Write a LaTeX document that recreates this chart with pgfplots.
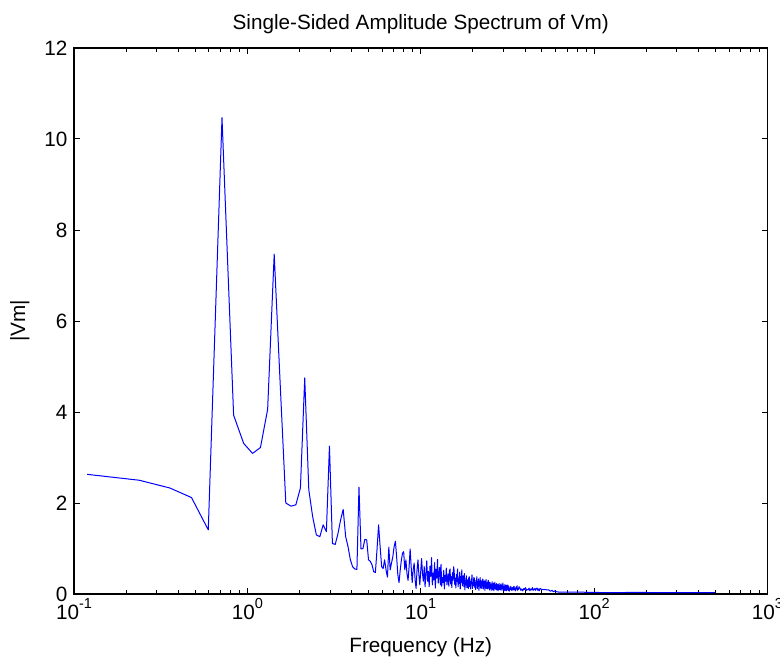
\documentclass[border=0pt]{standalone}
\usepackage{fontspec}
\setmainfont{Liberation Sans}
\usepackage{pgfplots}
\pgfplotsset{compat=1.18}
\usepackage{pgfplotstable}

% k = FFT bin index, f = k * 0.119 Hz ; v = |Vm|
\pgfplotstableread[row sep=\\]{
k v\\
1 2.63\\ 2 2.50\\ 3 2.33\\ 4 2.12\\ 5 1.41\\ 6 10.47\\ 7 3.93\\ 8 3.31\\ 9 3.09\\ 10 3.22\\
11 4.06\\ 12 7.47\\ 13 4.60\\ 14 2.00\\ 15 1.93\\ 16 1.96\\ 17 2.33\\ 18 4.75\\ 19 2.29\\ 20 1.70\\
21 1.30\\ 22 1.26\\ 23 1.52\\ 24 1.37\\ 25 3.25\\ 26 1.11\\ 27 1.09\\ 28 1.33\\ 29 1.63\\ 30 1.86\\
31 1.26\\ 32 1.04\\ 33 0.75\\ 34 0.60\\ 35 0.55\\ 36 0.54\\ 37 2.35\\ 38 0.99\\ 39 1.00\\ 40 1.20\\
41 1.19\\ 42 0.75\\ 43 0.72\\ 44 0.64\\ 45 0.49\\ 46 0.47\\ 47 0.97\\ 48 1.52\\ 49 1.04\\ 50 0.60\\
51 0.56\\ 52 0.75\\ 53 0.53\\ 54 0.37\\ 55 1.03\\ 56 0.53\\ 57 0.68\\ 58 0.82\\ 59 1.04\\ 60 1.16\\
61 0.82\\ 62 0.42\\ 63 0.25\\ 64 0.53\\ 65 0.75\\ 66 0.90\\ 67 0.93\\ 68 0.53\\ 69 0.75\\ 70 0.45\\
71 0.30\\ 72 0.60\\ 73 0.99\\ 74 0.60\\ 75 0.25\\ 76 0.53\\ 77 0.68\\ 78 0.30\\ 79 0.12\\ 80 0.53\\
81 0.75\\ 82 0.42\\ 83 0.20\\ 84 0.50\\ 85 0.78\\ 86 0.45\\ 87 0.28\\ 88 0.60\\ 89 0.16\\ 90 0.45\\
91 0.73\\ 92 0.28\\ 93 0.50\\ 94 0.16\\ 95 0.61\\ 96 0.39\\ 97 0.80\\ 98 0.20\\ 99 0.46\\ 100 0.31\\
101 0.69\\ 102 0.13\\ 103 0.54\\ 104 0.35\\ 105 0.76\\ 106 0.24\\ 107 0.43\\ 108 0.58\\ 109 0.20\\ 110 0.65\\
111 0.17\\ 112 0.36\\ 113 0.25\\ 114 0.52\\ 115 0.11\\ 116 0.41\\ 117 0.28\\ 118 0.57\\ 119 0.20\\ 120 0.33\\
121 0.44\\ 122 0.17\\ 123 0.49\\ 124 0.55\\ 125 0.22\\ 126 0.38\\ 127 0.14\\ 128 0.47\\ 129 0.30\\ 130 0.60\\
131 0.50\\ 132 0.21\\ 133 0.35\\ 134 0.13\\ 135 0.43\\ 136 0.28\\ 137 0.55\\ 138 0.16\\ 139 0.33\\ 140 0.23\\
141 0.48\\ 142 0.11\\ 143 0.38\\ 144 0.26\\ 145 0.53\\ 146 0.18\\ 147 0.31\\ 148 0.40\\ 149 0.16\\ 150 0.45\\
151 0.09\\ 152 0.29\\ 153 0.20\\ 154 0.40\\ 155 0.14\\ 156 0.24\\ 157 0.31\\ 158 0.12\\ 159 0.35\\ 160 0.38\\
161 0.16\\ 162 0.27\\ 163 0.11\\ 164 0.33\\ 165 0.22\\ 166 0.42\\ 167 0.12\\ 168 0.25\\ 169 0.18\\ 170 0.36\\
171 0.35\\ 172 0.15\\ 173 0.25\\ 174 0.10\\ 175 0.30\\ 176 0.20\\ 177 0.38\\ 178 0.12\\ 179 0.23\\ 180 0.17\\
181 0.33\\ 182 0.08\\ 183 0.26\\ 184 0.18\\ 185 0.36\\ 186 0.13\\ 187 0.22\\ 188 0.28\\ 189 0.12\\ 190 0.31\\
191 0.18\\ 192 0.33\\ 193 0.11\\ 194 0.20\\ 195 0.15\\ 196 0.29\\ 197 0.08\\ 198 0.23\\ 199 0.16\\ 200 0.32\\
201 0.12\\ 202 0.19\\ 203 0.25\\ 204 0.11\\ 205 0.27\\ 206 0.30\\ 207 0.13\\ 208 0.22\\ 209 0.09\\ 210 0.26\\
211 0.25\\ 212 0.12\\ 213 0.18\\ 214 0.08\\ 215 0.22\\ 216 0.15\\ 217 0.27\\ 218 0.09\\ 219 0.17\\ 220 0.13\\
221 0.24\\ 222 0.07\\ 223 0.19\\ 224 0.14\\ 225 0.26\\ 226 0.11\\ 227 0.16\\ 228 0.20\\ 229 0.09\\ 230 0.23\\
231 0.09\\ 232 0.15\\ 233 0.12\\ 234 0.21\\ 235 0.07\\ 236 0.17\\ 237 0.13\\ 238 0.23\\ 239 0.10\\ 240 0.15\\
241 0.18\\ 242 0.09\\ 243 0.20\\ 244 0.22\\ 245 0.11\\ 246 0.16\\ 247 0.08\\ 248 0.19\\ 249 0.14\\ 250 0.24\\
251 0.19\\ 252 0.10\\ 253 0.15\\ 254 0.07\\ 255 0.17\\ 256 0.12\\ 257 0.21\\ 258 0.08\\ 259 0.14\\ 260 0.11\\
261 0.19\\ 262 0.07\\ 263 0.15\\ 264 0.11\\ 265 0.20\\ 266 0.09\\ 267 0.13\\ 268 0.16\\ 269 0.08\\ 270 0.18\\
272 0.06\\ 274 0.13\\ 276 0.10\\ 278 0.17\\ 280 0.08\\ 282 0.12\\ 284 0.14\\ 286 0.08\\ 288 0.15\\ 290 0.17\\
292 0.09\\ 294 0.13\\ 296 0.07\\ 298 0.15\\ 300 0.11\\ 302 0.18\\ 304 0.08\\ 306 0.12\\ 308 0.10\\ 310 0.16\\
314 0.13\\ 318 0.08\\ 322 0.11\\ 326 0.07\\ 330 0.12\\ 334 0.10\\ 338 0.14\\ 342 0.08\\ 346 0.10\\ 350 0.09\\
354 0.13\\ 358 0.07\\ 362 0.11\\ 366 0.09\\ 370 0.14\\ 374 0.08\\ 378 0.10\\ 382 0.12\\ 386 0.08\\ 390 0.12\\
394 0.13\\ 398 0.08\\ 402 0.11\\ 406 0.07\\ 410 0.12\\ 420 0.10\\ 460 0.09\\ 470 0.06\\ 480 0.08\\ 490 0.05\\
500 0.07\\ 510 0.05\\ 530 0.04\\ 700 0.04\\ 1000 0.03\\ 1500 0.035\\ 2000 0.03\\ 3000 0.03\\ 4180 0.03\\
}\spec

\newcommand{\dec}[1]{10\raisebox{11pt}{\fontsize{14.5}{16}\selectfont #1}}

\begin{document}
\begin{tikzpicture}
\begin{semilogxaxis}[
  at={(0,0)}, anchor=south west,
  scale only axis, width=693.5pt, height=546pt,
  line width=1.1pt,
  xmin=0.1, xmax=1000, ymin=0, ymax=12,
  xtick={0.1,1,10,100,1000},
  minor xtick={0.2,0.3,0.4,0.5,0.6,0.7,0.8,0.9,2,3,4,5,6,7,8,9,20,30,40,50,60,70,80,90,200,300,400,500,600,700,800,900},
  xticklabels={\dec{-1},\dec{0},\dec{1},\dec{2},\dec{3}},
  ytick={0,2,4,6,8,10,12},
  yticklabels={0,2,4,6,8,10,12},
  tick align=inside, xtick pos=both, ytick pos=both,
  major tick length=6pt, minor tick length=4pt,
  tick style={black, line width=1pt},
  every tick label/.append style={font=\fontsize{20.7}{24}\selectfont},
  xticklabel style={anchor=base, yshift=-25pt},
  yticklabel style={anchor=east, inner xsep=0pt, xshift=-6pt},
  xlabel={Frequency (Hz)},
  ylabel={|Vm|},
  every axis x label/.style={at={(axis description cs:0.5,0)}, anchor=base, yshift=-58pt, font=\fontsize{20.7}{24}\selectfont},
  every axis y label/.style={at={(axis description cs:-0.078,0.5)}, anchor=center, rotate=90, font=\fontsize{20.7}{24}\selectfont},
  title={Single-Sided Amplitude Spectrum of Vm)},
  every axis title/.style={at={(axis description cs:0.5,1)}, anchor=base, yshift=18pt, font=\fontsize{20.7}{24}\selectfont},
]
\addplot[color={rgb,1:red,0;green,0;blue,1}, line width=1pt, line join=round] table[x expr=\thisrow{k}*0.119, y=v] {\spec};
\end{semilogxaxis}
\pgfresetboundingbox
\path[use as bounding box] (-74pt,-63pt) rectangle (706pt,594pt);
\end{tikzpicture}
\end{document}
